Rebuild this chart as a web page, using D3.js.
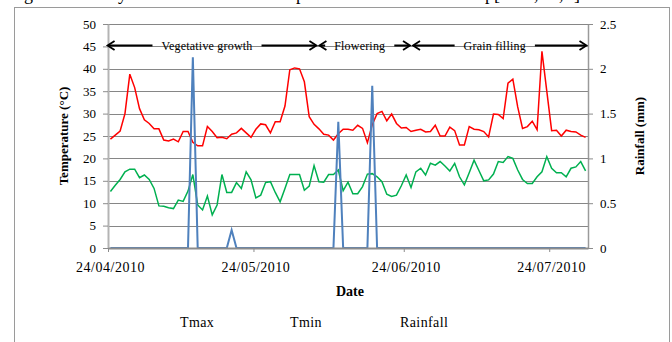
<!DOCTYPE html>
<html>
<head>
<meta charset="utf-8">
<script src="https://cdn.jsdelivr.net/npm/d3@7/dist/d3.min.js"></script>
<style>
body { margin: 0; background: #fff; }
svg { display: block; font-family: "Liberation Serif", "Times New Roman", serif; }
</style>
</head>
<body>
<div id="chart"></div>
<script>
// daily series, first value is 24/04/2010
var startDate = new Date(Date.UTC(2010, 3, 24));
var endDate = new Date(Date.UTC(2010, 7, 1));

var tmax = [24.3, 25.2, 26.1, 30.0, 38.8, 35.8, 31.1, 28.6, 27.8, 26.6,
    26.6, 24.1, 23.9, 24.3, 23.7, 26.0, 26.0, 23.6, 22.8, 22.8,
    27.1, 26.0, 24.6, 24.7, 24.4, 25.4, 25.7, 26.7, 25.7, 24.7,
    26.5, 27.7, 27.5, 25.7, 28.2, 28.2, 31.7, 39.8, 40.2, 40.0,
    37.1, 29.3, 27.6, 26.6, 25.4, 25.2, 24.1, 25.5, 26.5, 26.5,
    26.3, 27.4, 26.7, 23.5, 27.5, 30.0, 30.5, 28.4, 29.9, 27.8,
    26.8, 26.9, 26.0, 26.3, 26.5, 25.9, 26.0, 27.4, 25.0, 25.0,
    27.0, 26.2, 23.0, 23.0, 27.1, 26.5, 26.4, 26.0, 24.8, 29.9,
    29.8, 28.9, 36.8, 37.7, 31.5, 26.7, 27.1, 28.3, 26.4, 43.9,
    35.0, 26.2, 26.3, 25.0, 26.3, 26.0, 25.9, 25.2, 24.7];

var tmin = [12.6, 14.0, 15.3, 17.0, 17.6, 17.6, 15.7, 16.3, 15.3, 13.3,
    9.4, 9.3, 9.0, 8.8, 10.7, 10.4, 12.7, 16.4, 9.6, 8.5,
    11.6, 7.4, 9.6, 16.4, 12.4, 12.4, 14.6, 13.3, 17.0, 15.2,
    11.2, 11.8, 14.6, 14.8, 12.4, 10.3, 13.3, 16.4, 16.4, 16.4,
    12.9, 13.8, 18.4, 14.8, 14.7, 16.4, 16.4, 17.4, 12.8, 14.7,
    12.1, 12.1, 13.7, 16.5, 16.6, 15.9, 14.8, 12.0, 11.5, 11.8,
    13.9, 16.3, 13.5, 17.0, 17.8, 16.3, 18.9, 18.5, 19.3, 18.3,
    17.2, 18.9, 15.9, 14.1, 16.8, 19.6, 17.3, 15.0, 15.2, 16.5,
    19.3, 19.1, 20.4, 20.0, 17.4, 15.3, 14.4, 14.4, 15.9, 17.0,
    20.4, 17.8, 16.8, 16.8, 15.9, 17.8, 18.1, 19.3, 17.2];

var rainfall = [0, 0, 0, 0, 0, 0, 0, 0, 0, 0,
    0, 0, 0, 0, 0, 0, 0, 2.13, 0, 0,
    0, 0, 0, 0, 0, 0.2, 0, 0, 0, 0,
    0, 0, 0, 0, 0, 0, 0, 0, 0, 0,
    0, 0, 0, 0, 0, 0, 0, 1.41, 0, 0,
    0, 0, 0, 0, 1.81, 0, 0, 0, 0, 0,
    0, 0, 0, 0, 0, 0, 0, 0, 0, 0,
    0, 0, 0, 0, 0, 0, 0, 0, 0, 0,
    0, 0, 0, 0, 0, 0, 0, 0, 0, 0,
    0, 0, 0, 0, 0, 0, 0, 0, 0];

var dateTicks = ["24/04/2010", "24/05/2010", "24/06/2010", "24/07/2010"];
var tempTicks = [0, 5, 10, 15, 20, 25, 30, 35, 40, 45, 50];
var rainTicks = [0, 0.5, 1, 1.5, 2, 2.5];
var rainTickLabels = ["0", "0.5", "1", "1.5", "2", "2.5"];
var legendNames = ["Tmax", "Tmin", "Rainfall"];

// crop stages, in days after 24/04/2010
var stageNames = ["Vegetative growth", "Flowering", "Grain filling"];
var stageFrom = [-0.4, 43.3, 62.6];
var stageTo = [43.3, 62.6, 99];

drawChart();

function drawChart() {
    var dayMs = 864e5;
    var parseDate = d3.utcParse("%d/%m/%Y");

    function pointDate(i) {
        return new Date(startDate.getTime() + (i + 0.5) * dayMs);
    }
    function dayDate(d) {
        return new Date(startDate.getTime() + d * dayMs);
    }

    var width = 672, height = 342;
    var plotLeft = 108, plotRight = 588, plotTop = 24, plotBottom = 248;

    var x = d3.scaleUtc().domain([startDate, endDate]).range([plotLeft, plotRight]);
    var yTemp = d3.scaleLinear().domain([0, 50]).range([plotBottom, plotTop]);
    var yRain = d3.scaleLinear().domain([0, 2.5]).range([plotBottom, plotTop]);

    var svg = d3.select("#chart").append("svg")
        .attr("width", width)
        .attr("height", height);

    // cut off caption of the figure above
    svg.append("text")
        .attr("y", 0)
        .style("font-size", "18px")
        .selectAll("tspan")
        .data([["g", 24], ["y", 118], ["p", 296], ["p[", 485], [",", 534], [",", 559], ["]", 574]])
        .enter().append("tspan")
        .attr("x", function(d) { return d[1]; })
        .text(function(d) { return d[0]; });

    svg.append("rect")
        .attr("x", 14.5).attr("y", 7.5)
        .attr("width", 655).attr("height", 345)
        .attr("fill", "none")
        .attr("stroke", "#9a9a9a");

    // gridlines
    svg.append("g").selectAll("line")
        .data(tempTicks.filter(function(d) { return d > 0; }))
        .enter().append("line")
        .attr("x1", plotLeft).attr("x2", plotRight)
        .attr("y1", function(d) { return Math.round(yTemp(d)) + 0.5; })
        .attr("y2", function(d) { return Math.round(yTemp(d)) + 0.5; })
        .attr("stroke", "#868686")
        .attr("stroke-width", 1);

    var tempLine = d3.line()
        .x(function(d, i) { return x(pointDate(i)); })
        .y(function(d) { return yTemp(d); });
    var rainLine = d3.line()
        .x(function(d, i) { return x(pointDate(i)); })
        .y(function(d) { return yRain(d); });

    svg.append("path").datum(tmax)
        .attr("d", tempLine)
        .attr("fill", "none").attr("stroke", "#ff0000").attr("stroke-width", 1.5);
    svg.append("path").datum(tmin)
        .attr("d", tempLine)
        .attr("fill", "none").attr("stroke", "#00b050").attr("stroke-width", 1.5);
    svg.append("path").datum(rainfall)
        .attr("d", rainLine)
        .attr("fill", "none").attr("stroke", "#4f81bd").attr("stroke-width", 2);

    // axes
    var leftAxis = svg.append("g")
        .attr("transform", "translate(" + plotLeft + ",0)")
        .call(d3.axisLeft(yTemp).tickValues(tempTicks).tickSize(5).tickSizeOuter(0).tickPadding(7));
    var rightAxis = svg.append("g")
        .attr("transform", "translate(" + plotRight + ",0)")
        .call(d3.axisRight(yRain).tickValues(rainTicks)
            .tickFormat(function(d, i) { return rainTickLabels[i]; })
            .tickSize(5).tickSizeOuter(0).tickPadding(7));
    var bottomAxis = svg.append("g")
        .attr("transform", "translate(0," + plotBottom + ")")
        .call(d3.axisBottom(x).tickValues(dateTicks.map(parseDate))
            .tickFormat(d3.utcFormat("%d/%m/%Y"))
            .tickSize(4).tickSizeOuter(0).tickPadding(10));

    [leftAxis, rightAxis, bottomAxis].forEach(function(a) {
        a.selectAll("text").attr("fill", "#000").style("font-family", "Liberation Serif");
        a.selectAll(".tick line").attr("stroke", "#8c8c8c");
    });
    leftAxis.selectAll("text").style("font-size", "13px");
    rightAxis.selectAll("text").style("font-size", "13px");
    bottomAxis.selectAll("text").style("font-size", "14px").style("letter-spacing", "0.5px").attr("dx", 2);
    leftAxis.select(".domain").attr("stroke", "#b4b4b4").attr("stroke-width", 2);
    rightAxis.select(".domain").attr("stroke", "#9a9a9a").attr("stroke-width", 1.5);
    bottomAxis.select(".domain").attr("stroke", "#8c8c8c").attr("stroke-width", 2.2);

    // crop stage arrows
    var arrowY = 45.5;
    var stages = svg.append("g");
    stageNames.forEach(function(name, i) {
        var x0 = x(dayDate(stageFrom[i])) + 1.5;
        var x1 = x(dayDate(stageTo[i])) - 1.5;
        var cx = (x0 + x1) / 2 - 5;
        var label = stages.append("text")
            .attr("x", cx)
            .attr("y", 49.5)
            .attr("text-anchor", "middle")
            .style("font-size", "12px")
            .style("letter-spacing", "0.2px")
            .text(name);
        var w = label.node().getComputedTextLength();
        var t0 = cx - w / 2, t1 = cx + w / 2;
        stages.append("line")
            .attr("x1", x0 + 1).attr("x2", t0 - 9)
            .attr("y1", arrowY).attr("y2", arrowY)
            .attr("stroke", "#000").attr("stroke-width", 2);
        stages.append("line")
            .attr("x1", t1 + 9).attr("x2", x1 - 1)
            .attr("y1", arrowY).attr("y2", arrowY)
            .attr("stroke", "#000").attr("stroke-width", 2);
        stages.append("path")
            .attr("d", "M" + (x0 + 7) + "," + (arrowY - 4.5) + "L" + x0 + "," + arrowY + "L" + (x0 + 7) + "," + (arrowY + 4.5))
            .attr("fill", "none").attr("stroke", "#000").attr("stroke-width", 1.8);
        stages.append("path")
            .attr("d", "M" + (x1 - 7) + "," + (arrowY - 4.5) + "L" + x1 + "," + arrowY + "L" + (x1 - 7) + "," + (arrowY + 4.5))
            .attr("fill", "none").attr("stroke", "#000").attr("stroke-width", 1.8);
    });

    // axis titles
    svg.append("text")
        .attr("transform", "translate(68," + ((plotTop + plotBottom) / 2) + ") rotate(-90)")
        .attr("text-anchor", "middle")
        .style("font-size", "13px").style("font-weight", "bold")
        .text("Temperature (°C)");
    svg.append("text")
        .attr("transform", "translate(644," + ((plotTop + plotBottom) / 2) + ") rotate(-90)")
        .attr("text-anchor", "middle")
        .style("font-size", "13px").style("font-weight", "bold")
        .text("Rainfall (mm)");
    svg.append("text")
        .attr("x", (plotLeft + plotRight) / 2 + 2).attr("y", 296)
        .attr("text-anchor", "middle")
        .style("font-size", "14px").style("font-weight", "bold")
        .text("Date");

    // legend (only labels are visible in the source)
    svg.append("g").selectAll("text")
        .data(legendNames)
        .enter().append("text")
        .attr("x", function(d, i) { return 180 + i * 110; })
        .attr("y", 327)
        .style("font-size", "14px")
        .style("letter-spacing", "0.4px")
        .text(function(d) { return d; });
}
</script>
</body>
</html>
